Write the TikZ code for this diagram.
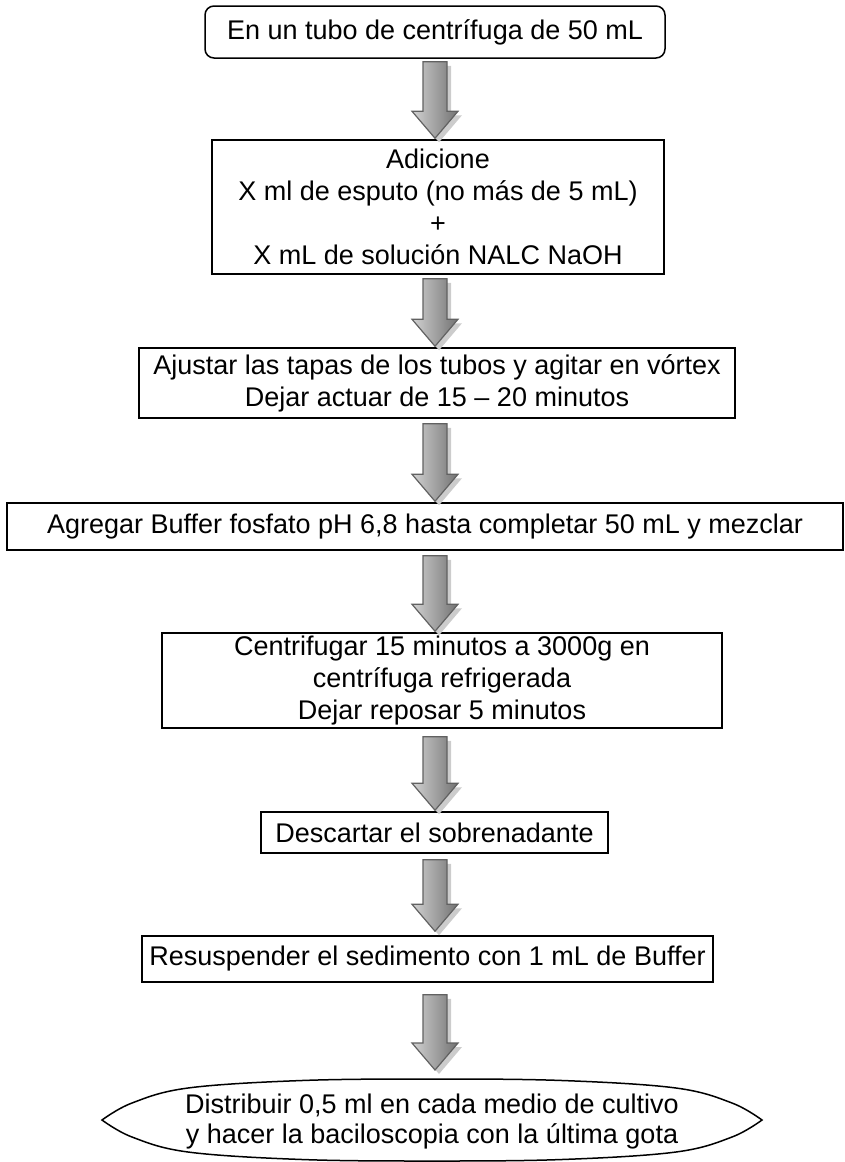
\documentclass[tikz,border=0pt]{standalone}
\usepackage{fontspec}
\setmainfont{Liberation Sans}
\usetikzlibrary{calc}
\tikzset{
  stepbox/.style={draw=black, line width=1.5pt, fill=white, align=center, inner sep=0pt, font=\fontsize{27}{32}\selectfont},
  textonly/.style={align=center, inner sep=0pt, font=\fontsize{27}{30}\selectfont},
  arrowshadow/.style={fill=black!20, draw=none},
  arrowbody/.style={left color=black!18, right color=black!55, draw=black!62, line width=1.2pt, line join=miter},
  endline/.style={draw=black, line width=1.5pt, line join=miter},
}
\newcommand\blockarr[2]{%
  \fill[arrowshadow] ($(#1)+(-8,4)$) -- ($(#1)+(16,4)$) -- ($(#2)+(16,-23)$) -- ($(#2)+(27,-23)$) -- ($(#2)+(4,4)$) -- ($(#2)+(-19,-23)$) -- ($(#2)+(-8,-23)$) -- cycle;
  \shadedraw[arrowbody] ($(#1)+(-12,0)$) -- ($(#1)+(12,0)$) -- ($(#2)+(12,-27)$) -- ($(#2)+(23,-27)$) -- (#2) -- ($(#2)+(-23,-27)$) -- ($(#2)+(-12,-27)$) -- cycle;
}
\begin{document}
\begin{tikzpicture}[x=1pt,y=-1pt]
\useasboundingbox (0,0) rectangle (844,1162);
\coordinate (axis) at (435,0);
\node[stepbox, rounded corners=9pt, minimum width=460pt, minimum height=52pt] (b1) at (435,32) {En un tubo de centrífuga de 50 mL};
\node[stepbox, minimum width=452pt, minimum height=134pt] (b2) at (438,207) {Adicione\\X ml de esputo (no más de 5 mL)\\+\\X mL de solución NALC NaOH};
\node[stepbox, minimum width=596pt, minimum height=70pt] (b3) at (437,383) {Ajustar las tapas de los tubos y agitar en vórtex\\Dejar actuar de 15 – 20 minutos};
\node[stepbox, minimum width=836pt, minimum height=47pt] (b4) at (425,526.5) {Agregar Buffer fosfato pH 6,8 hasta completar 50 mL y mezclar};
\node[stepbox, minimum width=560pt, minimum height=95pt] (b5) at (442,680.5) {Centrifugar 15 minutos a 3000g en\\centrífuga refrigerada\\Dejar reposar 5 minutos};
\node[stepbox, minimum width=347pt, minimum height=41pt] (b6) at (434.5,832.5) {Descartar el sobrenadante};
\node[stepbox, minimum width=571pt, minimum height=46pt] (b7) at (427.5,959) {Resuspender el sedimento con 1 mL de Buffer};
% final step: flattened ellipse with slightly pointed ends
\coordinate (ec) at (432,1120);
\begin{scope}[shift={(ec)}]
\draw[endline] plot[smooth, tension=0.6] coordinates {(-330,0) (-300,-17) (-244,-32) (-130,-39.5) (0,-41) (130,-39.5) (244,-32) (300,-17) (330,0)}
  -- plot[smooth, tension=0.6] coordinates {(330,0) (300,17) (244,32) (130,39.5) (0,41) (-130,39.5) (-244,32) (-300,17) (-330,0)} -- cycle;
\end{scope}
\node[textonly] (b8) at ($(ec)+(0,2)$) {Distribuir 0,5 ml en cada medio de cultivo\\y hacer la baciloscopia con la última gota};
\coordinate (b8top) at ($(ec)+(0,-41)$);
% arrow end points
\coordinate (s1) at ($(b1.south -| axis)+(0,3)$);
\coordinate (t1) at ($(b2.north -| axis)+(0,-1)$);
\coordinate (s2) at ($(b2.south -| axis)+(0,4)$);
\coordinate (t2) at ($(b3.north -| axis)+(0,-1)$);
\coordinate (s3) at ($(b3.south -| axis)+(0,5)$);
\coordinate (t3) at ($(b4.north -| axis)+(0,-1)$);
\coordinate (s4) at ($(b4.south -| axis)+(0,5)$);
\coordinate (t4) at ($(b5.north -| axis)+(0,-1)$);
\coordinate (s5) at ($(b5.south -| axis)+(0,8)$);
\coordinate (t5) at ($(b6.north -| axis)+(0,-1)$);
\coordinate (s6) at ($(b6.south -| axis)+(0,6)$);
\coordinate (t6) at ($(b7.north -| axis)+(0,-4)$);
\coordinate (s7) at ($(b7.south -| axis)+(0,12)$);
\coordinate (t7) at ($(b8top -| axis)+(0,-9)$);
\blockarr{s1}{t1}
\blockarr{s2}{t2}
\blockarr{s3}{t3}
\blockarr{s4}{t4}
\blockarr{s5}{t5}
\blockarr{s6}{t6}
\blockarr{s7}{t7}
\end{tikzpicture}
\end{document}
